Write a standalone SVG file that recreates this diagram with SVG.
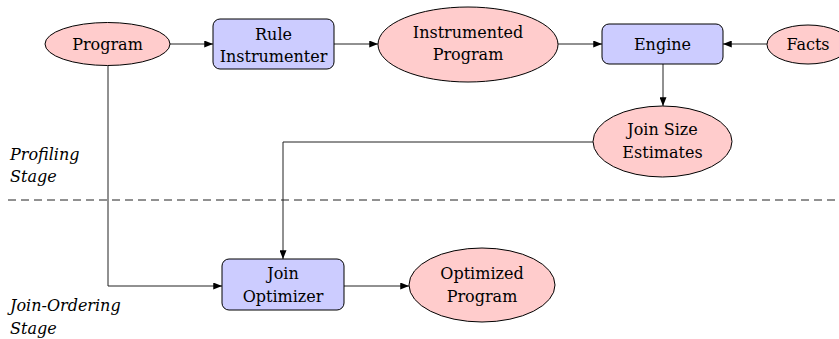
<svg xmlns="http://www.w3.org/2000/svg" width="839" height="339" viewBox="0 0 839 339">
<style>
text{font-family:'DejaVu Serif','Liberation Serif',serif;font-size:16px;fill:#000;text-anchor:middle}
.lbl{font-style:italic;text-anchor:start;font-size:16px}
.ell{fill:#ffcccc;stroke:#000;stroke-width:1}
.box{fill:#ccccff;stroke:#000;stroke-width:1}
.edge{fill:none;stroke:#222;stroke-width:1}
</style>
<defs>
<marker id="ah" viewBox="0 0 10 8" refX="10" refY="4" markerWidth="9" markerHeight="7" markerUnits="userSpaceOnUse" orient="auto">
<path d="M0,0 L10,4 L0,8 z" fill="#000"/>
</marker>
</defs>
<rect width="839" height="339" fill="#fff"/>
<g id="connectors">
<path class="edge" d="M170,44 H213" marker-end="url(#ah)"/>
<path class="edge" d="M334,44 H378" marker-end="url(#ah)"/>
<path class="edge" d="M558,44 H602" marker-end="url(#ah)"/>
<path class="edge" d="M767,44 H723" marker-end="url(#ah)"/>
<path class="edge" d="M663,64 V106" marker-end="url(#ah)"/>
<path class="edge" d="M593,142 H283 V259" marker-end="url(#ah)"/>
<path class="edge" d="M108,66 V286 H222" marker-end="url(#ah)"/>
<path class="edge" d="M344,286 H409" marker-end="url(#ah)"/>
<path fill="none" stroke="#222" stroke-width="1" stroke-dasharray="8,5" d="M8,200 H836"/>
</g>
<g id="program"><ellipse class="ell" cx="107.5" cy="44" rx="62.5" ry="21.5"/><text x="107.5" y="50">Program</text></g>
<g id="rule-instrumenter"><rect class="box" x="213" y="19" width="121" height="50" rx="7"/><text x="273.5" y="40">Rule</text><text x="273.5" y="62">Instrumenter</text></g>
<g id="instrumented-program"><ellipse class="ell" cx="468" cy="44.5" rx="90" ry="37.5"/><text x="468" y="38">Instrumented</text><text x="468" y="60">Program</text></g>
<g id="engine"><rect class="box" x="602" y="24" width="121" height="40" rx="7"/><text x="662.5" y="50">Engine</text></g>
<g id="facts"><ellipse class="ell" cx="808" cy="44.5" rx="41" ry="19.5"/><text x="808" y="50">Facts</text></g>
<g id="join-size-estimates"><ellipse class="ell" cx="662.5" cy="141.5" rx="69.5" ry="35.5"/><text x="662.5" y="135">Join Size</text><text x="662.5" y="158">Estimates</text></g>
<g id="join-optimizer"><rect class="box" x="222" y="259" width="122" height="51" rx="7"/><text x="283" y="279">Join</text><text x="283" y="302">Optimizer</text></g>
<g id="optimized-program"><ellipse class="ell" cx="482" cy="285" rx="73" ry="37"/><text x="482" y="279">Optimized</text><text x="482" y="302">Program</text></g>
<g id="stage-labels">
<text class="lbl" x="10" y="160">Profiling</text>
<text class="lbl" x="10" y="182">Stage</text>
<text class="lbl" x="10" y="311">Join-Ordering</text>
<text class="lbl" x="10" y="334">Stage</text>
</g>
</svg>
